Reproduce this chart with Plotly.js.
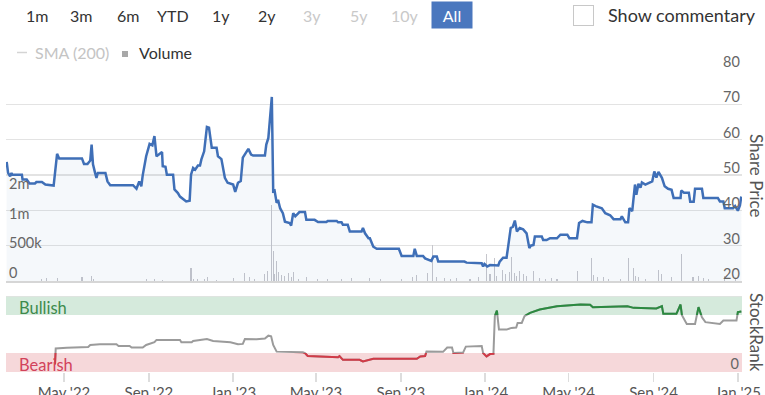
<!DOCTYPE html>
<html>
<head>
<meta charset="utf-8">
<script src="https://cdn.plot.ly/plotly-3.0.1.min.js"></script>
<style>html,body{margin:0;padding:0;background:#fff;}#chart{width:765px;height:395px;}</style>
</head>
<body>
<div id="chart"></div>
<script>
// ---------------- DATA ----------------
const priceDates = ['2022-02-07','2022-02-09','2022-02-12','2022-02-14','2022-02-15','2022-03-01','2022-03-02','2022-03-08','2022-03-12','2022-03-20','2022-03-22','2022-03-30','2022-04-04','2022-04-16','2022-04-21','2022-04-24','2022-05-27','2022-05-30','2022-06-04','2022-06-08','2022-06-10','2022-06-12','2022-06-15','2022-06-17','2022-06-19','2022-06-30','2022-07-03','2022-07-07','2022-08-09','2022-08-14','2022-08-18','2022-08-21','2022-08-23','2022-08-28','2022-09-02','2022-09-06','2022-09-09','2022-09-12','2022-09-20','2022-09-21','2022-09-25','2022-09-27','2022-10-06','2022-10-08','2022-10-13','2022-10-16','2022-10-25','2022-10-30','2022-11-01','2022-11-04','2022-11-07','2022-11-11','2022-11-14','2022-11-16','2022-11-20','2022-11-24','2022-11-27','2022-12-01','2022-12-08','2022-12-10','2022-12-15','2022-12-18','2022-12-20','2022-12-24','2023-01-01','2023-01-04','2023-01-08','2023-01-12','2023-01-15','2023-01-23','2023-01-27','2023-01-30','2023-02-16','2023-02-18','2023-02-21','2023-02-26','2023-02-28','2023-03-02','2023-03-05','2023-03-07','2023-03-10','2023-03-14','2023-03-17','2023-03-24','2023-03-26','2023-03-29','2023-04-01','2023-04-07','2023-04-15','2023-04-17','2023-04-29','2023-05-04','2023-05-16','2023-05-18','2023-05-31','2023-06-02','2023-06-07','2023-06-09','2023-06-16','2023-06-19','2023-07-06','2023-07-08','2023-07-11','2023-07-16','2023-07-18','2023-07-23','2023-07-28','2023-08-29','2023-09-02','2023-09-19','2023-09-21','2023-09-24','2023-10-03','2023-10-06','2023-10-15','2023-10-18','2023-10-23','2023-10-25','2023-11-01','2023-11-04','2023-12-02','2023-12-05','2023-12-27','2023-12-29','2023-12-31','2024-01-04','2024-01-08','2024-01-20','2024-01-22','2024-01-27','2024-02-01','2024-02-03','2024-02-07','2024-02-10','2024-02-13','2024-02-16','2024-02-20','2024-02-25','2024-03-01','2024-03-05','2024-03-07','2024-03-11','2024-03-13','2024-03-23','2024-03-25','2024-03-30','2024-04-04','2024-04-14','2024-04-19','2024-04-29','2024-05-02','2024-05-13','2024-05-16','2024-05-21','2024-05-28','2024-06-03','2024-06-05','2024-06-09','2024-06-18','2024-06-23','2024-06-30','2024-07-05','2024-07-15','2024-07-17','2024-07-22','2024-07-26','2024-07-28','2024-08-01','2024-08-05','2024-08-07','2024-08-10','2024-08-13','2024-08-15','2024-08-20','2024-08-30','2024-09-02','2024-09-05','2024-09-08','2024-09-13','2024-09-17','2024-09-22','2024-09-27','2024-09-30','2024-10-10','2024-10-11','2024-10-15','2024-10-22','2024-10-24','2024-10-29','2024-10-31','2024-11-10','2024-11-12','2024-12-03','2024-12-06','2024-12-11','2024-12-13','2024-12-25','2024-12-28','2025-01-01','2025-01-04','2025-01-06'];
const priceValues = [53.7,50.6,49.6,50.6,50.1,50.1,48.7,48.7,47.6,47.6,48.0,48.0,47.3,47.0,56.0,54.7,54.7,53.1,53.1,54.1,58.6,53.0,50.6,49.2,50.6,50.6,48.2,47.1,47.1,46.1,48.2,46.8,49.9,55.3,58.8,58.4,61.0,55.3,56.5,52.5,52.3,50.1,50.1,45.9,44.9,43.9,42.5,42.7,50.1,52.0,51.5,52.7,52.7,54.4,56.7,63.6,63.4,57.7,57.7,55.3,54.5,50.9,49.2,47.8,47.3,45.2,47.8,48.3,54.9,57.4,55.8,55.5,55.5,58.6,60.5,72.1,45.4,45.6,42.1,43.0,40.6,39.2,36.8,36.4,35.7,39.2,38.3,39.5,39.5,37.3,37.3,36.7,36.7,37.0,37.0,36.6,36.6,35.9,35.9,34.0,34.0,35.0,33.5,32.1,32.1,29.7,29.1,29.1,27.1,27.1,29.1,27.1,27.1,26.4,25.7,26.9,26.9,25.5,25.5,25.6,25.5,25.2,25.0,24.1,24.8,24.1,24.5,24.4,25.5,26.6,26.6,29.3,35.0,35.3,37.1,34.0,35.0,34.6,33.5,29.3,30.0,30.2,32.6,32.6,31.6,31.6,32.1,32.1,33.1,33.1,32.1,32.1,36.4,37.0,36.6,36.6,41.6,41.2,40.6,39.2,38.6,37.5,37.5,38.3,36.6,36.6,40.6,39.8,47.3,44.4,47.5,46.4,47.9,47.3,48.2,51.0,49.3,50.9,49.2,46.8,46.1,45.8,43.5,43.5,45.6,45.0,45.0,42.4,42.4,46.1,46.1,43.5,43.5,42.5,42.5,40.6,40.6,41.2,39.9,41.4,43.9];

const volumeDates = ['2022-03-30','2022-04-06','2022-04-21','2022-05-27','2022-06-10','2022-06-13','2022-08-28','2022-09-09','2022-09-21','2022-11-01','2022-11-04','2022-11-10','2022-11-20','2022-11-25','2022-12-08','2023-01-01','2023-01-18','2023-01-25','2023-02-01','2023-02-16','2023-02-20','2023-02-26','2023-02-28','2023-03-02','2023-03-05','2023-03-08','2023-03-12','2023-03-16','2023-03-22','2023-03-26','2023-03-30','2023-04-05','2023-04-17','2023-05-03','2023-05-18','2023-06-07','2023-06-21','2023-07-18','2023-08-02','2023-09-02','2023-09-18','2023-09-24','2023-10-09','2023-10-17','2023-10-23','2023-11-03','2023-11-12','2023-11-20','2023-12-10','2023-12-22','2024-01-03','2024-01-08','2024-01-15','2024-01-17','2024-01-26','2024-01-31','2024-02-05','2024-02-08','2024-02-12','2024-02-16','2024-02-20','2024-02-25','2024-03-01','2024-03-11','2024-03-20','2024-03-28','2024-04-06','2024-04-14','2024-05-14','2024-06-03','2024-06-06','2024-06-12','2024-06-20','2024-06-28','2024-07-15','2024-07-27','2024-08-03','2024-08-06','2024-08-10','2024-08-20','2024-09-08','2024-09-13','2024-09-27','2024-10-12','2024-10-28','2024-11-05','2024-11-12','2024-11-20','2024-12-13','2024-12-28'];
const volumeValues = [40000,45000,50000,70000,85000,40000,30000,35000,25000,220000,40000,30000,30000,60000,25000,50000,130000,60000,40000,120000,160000,1280000,500000,110000,340000,150000,100000,90000,130000,70000,150000,40000,60000,30000,35000,40000,50000,50000,40000,30000,70000,100000,140000,600000,70000,50000,40000,45000,30000,60000,460000,120000,380000,90000,180000,120000,150000,410000,130000,90000,160000,110000,80000,170000,50000,40000,50000,40000,160000,390000,100000,70000,60000,40000,30000,390000,210000,90000,60000,40000,180000,110000,60000,450000,60000,80000,50000,30000,90000,40000];

const rankDates = ['2022-04-18','2022-04-19','2022-05-05','2022-06-05','2022-06-08','2022-06-22','2022-07-16','2022-07-19','2022-08-04','2022-08-07','2022-08-23','2022-08-28','2022-09-09','2022-09-12','2022-10-16','2022-10-18','2022-11-02','2022-11-04','2022-11-24','2022-12-03','2022-12-28','2023-01-08','2023-01-15','2023-01-18','2023-02-04','2023-02-16','2023-02-21','2023-02-25','2023-02-28','2023-03-05','2023-04-12','2023-04-15','2023-04-19','2023-06-02','2023-06-04','2023-06-09','2023-07-03','2023-07-08','2023-07-23','2023-09-24','2023-09-29','2023-10-06','2023-10-08','2023-11-01','2023-11-07','2023-11-14','2023-11-16','2023-11-30','2023-12-04','2023-12-27','2023-12-29','2024-01-03','2024-01-08','2024-01-13','2024-01-15','2024-01-18','2024-01-21','2024-02-01','2024-02-08','2024-02-15','2024-02-17','2024-02-23','2024-02-27','2024-03-06','2024-03-20','2024-04-14','2024-05-18','2024-06-01','2024-06-05','2024-07-05','2024-07-25','2024-08-03','2024-09-05','2024-09-13','2024-09-15','2024-10-04','2024-10-10','2024-10-12','2024-10-19','2024-10-31','2024-11-05','2024-11-10','2024-11-15','2024-12-06','2024-12-11','2024-12-30','2025-01-01','2025-01-06'];
const rankValues = [10,31,32,33,35.6,36.5,36.5,34.3,34.3,32.1,32.1,35.6,39.2,42.2,42.2,39.2,39.2,40.8,43.4,40.8,39.2,36.5,37,43.4,43,44,47.8,47,35.6,26.8,26.0,25,21.1,19.5,21,16,16,13.9,17.4,17.4,20.5,21,26.8,26.5,32.1,32.1,24.9,25.5,33.4,34.3,24.9,20.5,23.6,24,73.5,80.9,55.8,55.8,58,58.5,64.6,64.6,73.5,77.9,82.2,86.6,88.8,88.5,85.3,86.3,86.6,84.4,83.5,86.6,76.5,76.5,88.8,74.7,63.3,63.3,85.3,72,65.6,63.3,67.7,67.7,78.8,79.5];

const rankBands = {bearish: [0, 25], bullish: [75, 100]};
const rangeButtons = ['1m','3m','6m','YTD','1y','2y','3y','5y','10y','All'];
const disabledButtons = ['3y','5y','10y'];
const volumeTickVals = [0, 500000, 1000000, 1500000];
const volumeTickText = ['0', '500k', '1m', '2m'];

// ---------------- LAYOUT HELPERS ----------------
const W = 765, H = 395, M = {l: 6, r: 23, t: 69, b: 23};
const PW = W - M.l - M.r, PH = H - M.t - M.b;
const px = x => (x - M.l) / PW;
const py = y => (H - M.b - y) / PH;
const topDom = [py(281), 1];
const botDom = [0, py(296)];
const botH = botDom[1] - botDom[0];
const FONT = 'Lato, "Open Sans", sans-serif';
const DAY = 86400000;

const traces = [
  {type: 'bar', x: volumeDates, y: volumeValues, xaxis: 'x', yaxis: 'y',
   marker: {color: '#c6c6cc', line: {width: 0}}, width: volumeDates.map(() => 1.6 * DAY),
   showlegend: false, hoverinfo: 'skip'},
  {type: 'scatter', mode: 'lines', x: priceDates, y: priceValues, xaxis: 'x', yaxis: 'y2',
   line: {color: '#3f6fb7', width: 2.5}, fill: 'tozeroy', fillcolor: 'rgba(63,111,183,0.05)',
   showlegend: false},
  {type: 'scatter', mode: 'lines', x: rankDates, y: rankValues, xaxis: 'x2', yaxis: 'y3',
   line: {color: '#9b9b9b', width: 2}, showlegend: false},
  {type: 'scatter', mode: 'lines', x: rankDates, y: rankValues, xaxis: 'x2', yaxis: 'y4',
   line: {color: '#d23a47', width: 2}, showlegend: false},
  {type: 'scatter', mode: 'lines', x: rankDates, y: rankValues, xaxis: 'x2', yaxis: 'y5',
   line: {color: '#2b8a40', width: 2}, showlegend: false}
];

const xRange = ['2022-02-06', '2025-01-07'];
const tickFont = {family: FONT, size: 14.5, color: '#666'};

const annotations = [];
const buttonCenters = [36.6, 80.5, 128, 173, 221, 267, 312, 358.5, 405, 452];
rangeButtons.forEach((b, i) => {
  const isAll = b === 'All';
  const a = {xref: 'paper', yref: 'paper', x: px(buttonCenters[i]), y: py(15.5), text: b, showarrow: false,
    xanchor: 'center', yanchor: 'middle',
    font: {family: FONT, size: 16, color: disabledButtons.includes(b) ? '#c9c9c9' : (isAll ? '#ffffff' : '#333')}};
  if (isAll) { a.bgcolor = '#4a77be'; a.width = 40; a.height = 26; a.borderpad = 0; }
  annotations.push(a);
});
annotations.push({xref: 'paper', yref: 'paper', x: px(583.5), y: py(15.5), text: ' ', showarrow: false,
  xanchor: 'center', yanchor: 'middle',
  width: 19, height: 19, bordercolor: '#c8c8c8', borderwidth: 1, borderpad: 0, bgcolor: '#fff'});
annotations.push({xref: 'paper', yref: 'paper', x: px(606), y: py(15.5), text: 'Show commentary', showarrow: false,
  xanchor: 'left', yanchor: 'middle', font: {family: FONT, size: 18, color: '#333'}});
annotations.push({xref: 'paper', yref: 'paper', x: px(33), y: py(52), text: 'SMA (200)', showarrow: false,
  xanchor: 'left', yanchor: 'middle', font: {family: FONT, size: 16, color: '#c4c4c4'}});
annotations.push({xref: 'paper', yref: 'paper', x: px(137), y: py(52), text: 'Volume', showarrow: false,
  xanchor: 'left', yanchor: 'middle', font: {family: FONT, size: 16, color: '#333'}});
annotations.push({xref: 'paper', yref: 'paper', x: px(17), y: py(308), text: 'Bullish', showarrow: false,
  xanchor: 'left', yanchor: 'middle', font: {family: FONT, size: 16.5, color: '#3d8a4c'}});
annotations.push({xref: 'paper', yref: 'paper', x: px(17), y: py(365), text: 'Bearish', showarrow: false,
  xanchor: 'left', yanchor: 'middle', font: {family: FONT, size: 16.5, color: '#d2425a'}});
annotations.push({xref: 'paper', yref: 'paper', x: px(757), y: py(175), text: 'Share Price', showarrow: false,
  textangle: 90, xanchor: 'center', yanchor: 'middle', font: {family: FONT, size: 17, color: '#555'}});
annotations.push({xref: 'paper', yref: 'paper', x: px(757), y: py(332), text: 'StockRank', showarrow: false,
  textangle: 90, xanchor: 'center', yanchor: 'middle', font: {family: FONT, size: 17, color: '#555'}});

const shapes = [
  {type: 'rect', xref: 'x2 domain', yref: 'y3', x0: 0, x1: 1, y0: rankBands.bullish[0], y1: rankBands.bullish[1],
   fillcolor: '#d5eadc', line: {width: 0}, layer: 'below'},
  {type: 'rect', xref: 'x2 domain', yref: 'y3', x0: 0, x1: 1, y0: rankBands.bearish[0], y1: rankBands.bearish[1],
   fillcolor: '#f6d8da', line: {width: 0}, layer: 'below'},
  {type: 'line', xref: 'x2 domain', yref: 'y3', x0: 0, x1: 1, y0: 100, y1: 100, line: {color: '#e2e2e2', width: 1.5}},
  {type: 'line', xref: 'paper', yref: 'paper', x0: px(17), x1: px(27), y0: py(52.5), y1: py(52.5), line: {color: '#d4d4d4', width: 1.5}},
  {type: 'rect', xref: 'paper', yref: 'paper', x0: px(122), x1: px(128), y0: py(57), y1: py(51), fillcolor: '#a8a8a8', line: {width: 0}}
];

const layout = {
  width: W, height: H, margin: M, paper_bgcolor: '#fff', plot_bgcolor: 'rgba(0,0,0,0)',
  font: {family: FONT, color: '#555'}, showlegend: false, hovermode: false, bargap: 0,
  xaxis: {domain: [0, 1], anchor: 'y', type: 'date', range: xRange, showticklabels: false, showgrid: false,
    showline: true, linecolor: '#d6d6d6', linewidth: 2, zeroline: false, ticks: ''},
  xaxis2: {domain: [0, 1], anchor: 'y3', type: 'date', range: xRange, matches: 'x', showgrid: false,
    tickformat: "%b '%y", dtick: 'M4', tick0: '2022-01-01', ticks: 'outside', ticklen: 9, tickwidth: 1.5,
    tickcolor: '#dddddd', showline: false, zeroline: false, ticklabelstandoff: -2,
    tickfont: {family: FONT, size: 15, color: '#555'}},
  yaxis: {domain: topDom, anchor: 'x', side: 'left', range: [0, 3560000], tickvals: volumeTickVals, ticktext: volumeTickText,
    showgrid: false, zeroline: false, ticklabelposition: 'inside', ticklabeloverflow: 'allow', ticklabelshift: -8,
    ticks: '', tickfont: tickFont},
  yaxis2: {overlaying: 'y', anchor: 'x', side: 'right', range: [20, 80], dtick: 10, gridcolor: '#e3e3e3', gridwidth: 1.5,
    zeroline: false, ticklabelposition: 'outside', ticklabelstandoff: -20, ticklabelshift: -7, ticks: '', tickfont: tickFont},
  yaxis3: {domain: botDom, anchor: 'x2', side: 'right', range: [0, 100], tickvals: [0], showgrid: false, zeroline: false,
    ticklabelposition: 'inside', ticklabeloverflow: 'allow', ticklabelshift: -8, ticks: '', tickfont: tickFont},
  yaxis4: {domain: [botDom[0], botDom[0] + botH * 0.25], anchor: 'x2', range: rankBands.bearish, visible: false},
  yaxis5: {domain: [botDom[0] + botH * 0.75, botDom[1]], anchor: 'x2', range: rankBands.bullish, visible: false},
  annotations: annotations, shapes: shapes
};

Plotly.newPlot('chart', traces, layout, {staticPlot: true, displayModeBar: false});
</script>
</body>
</html>
